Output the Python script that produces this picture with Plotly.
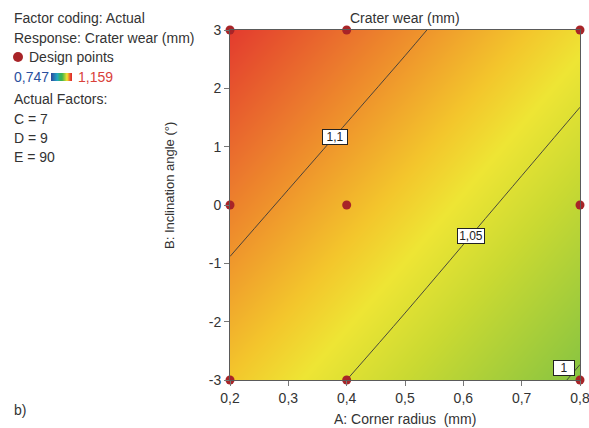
import numpy as np
import plotly.graph_objects as go

# ---- data ----
corner_radius = [0.2, 0.5, 0.8]          # A: Corner radius (mm)
inclination = [-3, 0, 3]                 # B: Inclination angle (deg)
crater_wear = [                          # rows follow inclination, cols follow corner_radius
    [1.076, 1.037, 0.997],
    [1.110, 1.071, 1.031],
    [1.144, 1.105, 1.065],
]
design_A = [0.2, 0.4, 0.8, 0.2, 0.4, 0.8, 0.2, 0.4, 0.8]
design_B = [3, 3, 3, 0, 0, 0, -3, -3, -3]
x_ticks = [0.2, 0.3, 0.4, 0.5, 0.6, 0.7, 0.8]
y_ticks = [-3, -2, -1, 0, 1, 2, 3]
y_ticktext = ["-3", "-2", "-1", "0", "1", "2", "3"]
z_min, z_max = 0.747, 1.159
contour_levels = [1.0, 1.05, 1.1]
label_text = ["1", "1,05", "1,1"]
label_y = [-2.786, -0.531, 1.174]
label_shift = [-13, 0, 0]
label_width = [20, 26, 24]
legend_lines = ["Factor coding: Actual", "Response: Crater wear (mm)"]
factor_lines = ["Actual Factors:", "C = 7", "D = 9", "E = 90"]

W, H = 589, 428
FONT = "Liberation Sans, Arial, sans-serif"

colorscale = [
    [0.0, "#2b4fa0"], [0.3, "#22a6c6"], [0.5, "#3cb54a"], [0.614, "#8cc540"],
    [0.704, "#c9d932"], [0.76, "#eee534"], [0.80, "#f3c62c"], [0.857, "#ef952c"],
    [0.964, "#e33b2e"], [1.0, "#e0302a"],
]

def px(x):
    return x / W

def py(y):
    return (H - y) / H

fig = go.Figure()

fig.add_trace(go.Contour(
    x=corner_radius, y=inclination, z=crater_wear,
    colorscale=colorscale, zmin=z_min, zmax=z_max, showscale=False,
    contours=dict(start=contour_levels[0], end=contour_levels[-1], size=0.05,
                  coloring="heatmap", showlabels=False),
    line=dict(color="#3a3a3a", width=0.9),
    hoverinfo="skip",
))

fig.add_trace(go.Scatter(
    x=design_A, y=design_B, mode="markers",
    marker=dict(color="#a82428", size=9),
    cliponaxis=False, showlegend=False,
))

# legend decorations on a pixel-scaled helper axis in the left area
fig.add_trace(go.Scatter(
    x=[18], y=[57], mode="markers", marker=dict(color="#a82428", size=10),
    xaxis="x2", yaxis="y2", showlegend=False, hoverinfo="skip",
))
fig.add_trace(go.Heatmap(
    z=[list(range(20))], x=list(np.linspace(51, 72, 21)), y=[73, 81],
    colorscale=colorscale, showscale=False, xaxis="x2", yaxis="y2",
    hoverinfo="skip",
))

xa = dict(zeroline=False, showgrid=False, showline=True, mirror=True,
          linecolor="#5a5a5a", linewidth=1, ticks="outside", ticklen=5,
          tickcolor="#777", automargin=False, ticklabeloverflow="allow",
          tickfont=dict(family=FONT, size=14, color="#333"))

fig.update_layout(
    template="none",
    width=W, height=H, autosize=False,
    margin=dict(l=0, r=0, t=0, b=0, pad=0, autoexpand=False),
    paper_bgcolor="white", plot_bgcolor="rgba(0,0,0,0)",
    separators=",.",
    showlegend=False,
    xaxis=dict(domain=[px(230), px(580)], range=[0.2, 0.8], tickvals=x_ticks,
               tickformat=".1f", **xa),
    yaxis=dict(domain=[py(380), py(30)], range=[-3, 3], tickvals=y_ticks,
               ticktext=y_ticktext, **xa),
    xaxis2=dict(domain=[0, px(212)], range=[0, 212], visible=False,
                fixedrange=True, automargin=False),
    yaxis2=dict(domain=[0, 1], range=[H, 0], visible=False,
                fixedrange=True, automargin=False),
)

ann = []
def text(x, y, s, size=14, color="#333", xanchor="left", **kw):
    ann.append(dict(x=px(x), y=py(y), xref="paper", yref="paper", text=s,
                    showarrow=False, xanchor=xanchor, yanchor="middle",
                    font=dict(family=FONT, size=size, color=color), **kw))

for s, y in zip(legend_lines, [18, 38]):
    text(12, y, s)
text(27, 57, "Design points")
text(12, 77, "0,747", color="#2a4f9e")
text(76, 77, "1,159", color="#d9413a")
for s, y in zip(factor_lines, [99, 119, 138, 157]):
    text(12, y, s)
text(12, 410, "b)")
text(405, 18, "Crater wear (mm)", xanchor="center")
text(405, 419, "A: Corner radius\u00a0 (mm)", xanchor="center")
text(169, 186, "B: Inclination angle (°)", size=13, xanchor="center", textangle=-90)

# contour labels: x found on the level line from the grid at the given y
def x_on_level(level, y):
    zrow = [np.interp(y, inclination, [row[j] for row in crater_wear])
            for j in range(len(corner_radius))]
    return float(np.interp(level, zrow[::-1], corner_radius[::-1]))

for lev, s, yv, sh, w in zip(contour_levels, label_text, label_y, label_shift, label_width):
    ann.append(dict(x=x_on_level(lev, yv), y=yv, xref="x", yref="y", text=s,
                    showarrow=False, xshift=sh, bgcolor="white", width=w,
                    bordercolor="#222", borderwidth=1, borderpad=0,
                    font=dict(family=FONT, size=12, color="#222")))

fig.update_layout(annotations=ann)
fig.write_html("out.html")
